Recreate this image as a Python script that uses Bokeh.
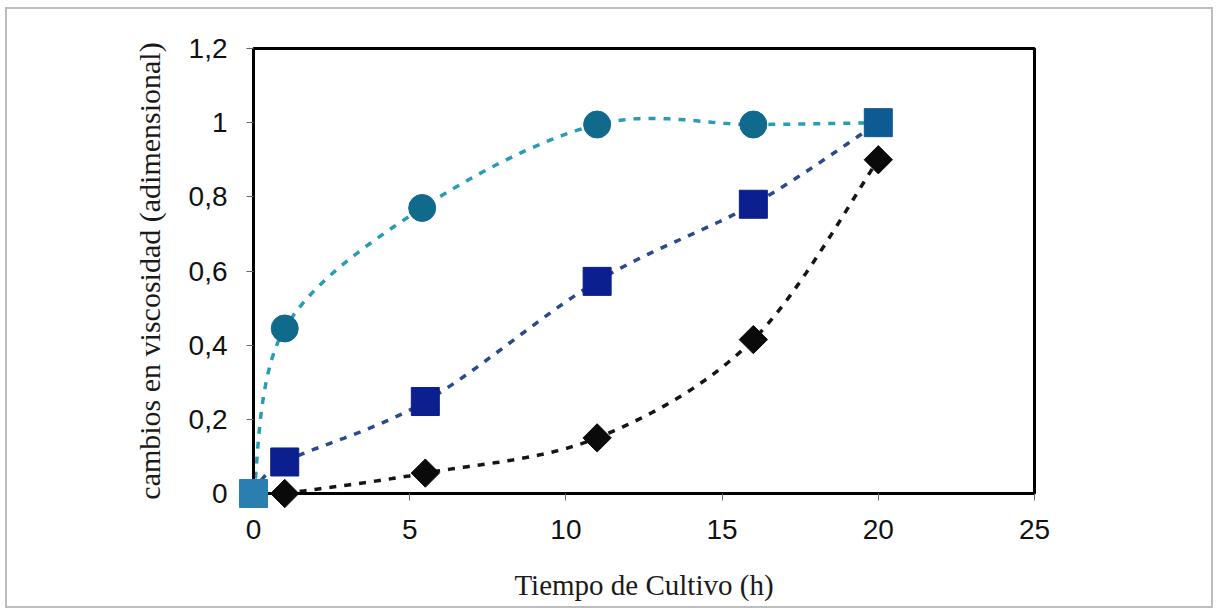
import numpy as np
from bokeh.plotting import figure
from bokeh.models import Range1d, FixedTicker, CustomJSTickFormatter
from bokeh.layouts import column
from bokeh.embed import file_html
from bokeh.resources import INLINE

# ---- data ----
time_circ = [0, 1, 5.4, 11, 16, 20]
val_circ = [0.0, 0.445, 0.77, 0.995, 0.995, 1.0]

time_sq = [0, 1, 5.5, 11, 16, 20]
val_sq = [0.0, 0.085, 0.248, 0.572, 0.78, 1.0]

time_dia = [1, 5.5, 11, 16, 20]
val_dia = [0.0, 0.055, 0.15, 0.415, 0.9]

x_ticks = [0, 5, 10, 15, 20, 25]
y_ticks = [0, 0.2, 0.4, 0.6, 0.8, 1.0, 1.2]

# ---- styles ----
C_CIRC = "#0f6a8c"
C_CIRC_LINE = "#2a9bb5"
C_SQ = "#0b1f8e"
C_SQ_LINE = "#2b4a8c"
C_DIA = "#0a0a0a"
SQ_COLORS = ["#2b7fb0", C_SQ, C_SQ, C_SQ, C_SQ, "#0e5a92"]


def smooth(xs, ys, n=40):
    """Excel-like smoothed line (Catmull-Rom as cubic Bezier) through the points."""
    pts = np.column_stack([xs, ys]).astype(float)
    out = []
    m = len(pts)
    for i in range(m - 1):
        p0 = pts[i - 1] if i > 0 else pts[i]
        p1 = pts[i]
        p2 = pts[i + 1]
        p3 = pts[i + 2] if i + 2 < m else pts[i + 1]
        c1 = p1 + (p2 - p0) / 6.0
        c2 = p2 - (p3 - p1) / 6.0
        t = np.linspace(0, 1, n)[:, None]
        seg = ((1 - t) ** 3) * p1 + 3 * ((1 - t) ** 2) * t * c1 + 3 * (1 - t) * t ** 2 * c2 + t ** 3 * p2
        out.append(seg if i == 0 else seg[1:])
    arr = np.vstack(out)
    return arr[:, 0], arr[:, 1]


W, H = 1204, 597
p = figure(width=W, height=H, output_backend="svg", toolbar_location=None,
           x_range=Range1d(0, 25), y_range=Range1d(0, 1.2),
           min_border_left=246, min_border_right=177, min_border_top=39, min_border_bottom=113)

p.background_fill_color = "white"
p.border_fill_color = "white"
p.outline_line_color = "black"
p.outline_line_width = 3
p.xgrid.visible = False
p.ygrid.visible = False

# trend (smoothed) lines
for xs, ys, col in [(time_circ, val_circ, C_CIRC_LINE), (time_sq, val_sq, C_SQ_LINE), (time_dia, val_dia, "#151515")]:
    sx, sy = smooth(xs, ys)
    p.line(sx, sy, line_color=col, line_width=3.5, line_dash="7 8")

# markers (overlay level so points at the frame edge are not clipped)
r1 = p.scatter(time_circ, val_circ, marker="circle", size=27, fill_color=C_CIRC, line_color=C_CIRC)
r2 = p.scatter(time_sq, val_sq, marker="square", size=28, fill_color=SQ_COLORS, line_color=SQ_COLORS)
r3 = p.scatter(time_dia, val_dia, marker="square", angle=np.pi / 4, size=20, fill_color=C_DIA, line_color=C_DIA)
for r in (r1, r2, r3):
    r.level = "overlay"

# axes
fmt = CustomJSTickFormatter(code="return (Math.round(tick*10)/10).toString().replace('.', ',');")
for ax, ticks in ((p.xaxis[0], x_ticks), (p.yaxis[0], y_ticks)):
    ax.ticker = FixedTicker(ticks=ticks)
    ax.formatter = fmt
    ax.axis_line_color = "black"
    ax.axis_line_width = 3
    ax.major_tick_line_color = "#666666"
    ax.major_tick_line_width = 1
    ax.major_tick_out = 7
    ax.major_tick_in = 0
    ax.minor_tick_line_color = None
    ax.major_label_text_font = "Liberation Sans"
    ax.major_label_text_font_size = "28px"
    ax.major_label_text_color = "#111111"
    ax.axis_label_text_font = "Liberation Serif"
    ax.axis_label_text_font_style = "normal"
    ax.axis_label_text_color = "#1a1a1a"

p.xaxis.axis_label = "Tiempo de Cultivo (h)"
p.yaxis.axis_label = "cambios en viscosidad (adimensional)"
p.xaxis.axis_label_text_font_size = "29px"
p.yaxis.axis_label_text_font_size = "30px"
p.xaxis.major_label_standoff = 19
p.yaxis.major_label_standoff = 19
p.xaxis.axis_label_standoff = 27
p.yaxis.axis_label_standoff = 20

layout = column(p, styles={"border": "2px solid #bdbdbd", "margin-left": "5px", "margin-top": "7px"})

open("out.html", "w").write(file_html(layout, INLINE))
